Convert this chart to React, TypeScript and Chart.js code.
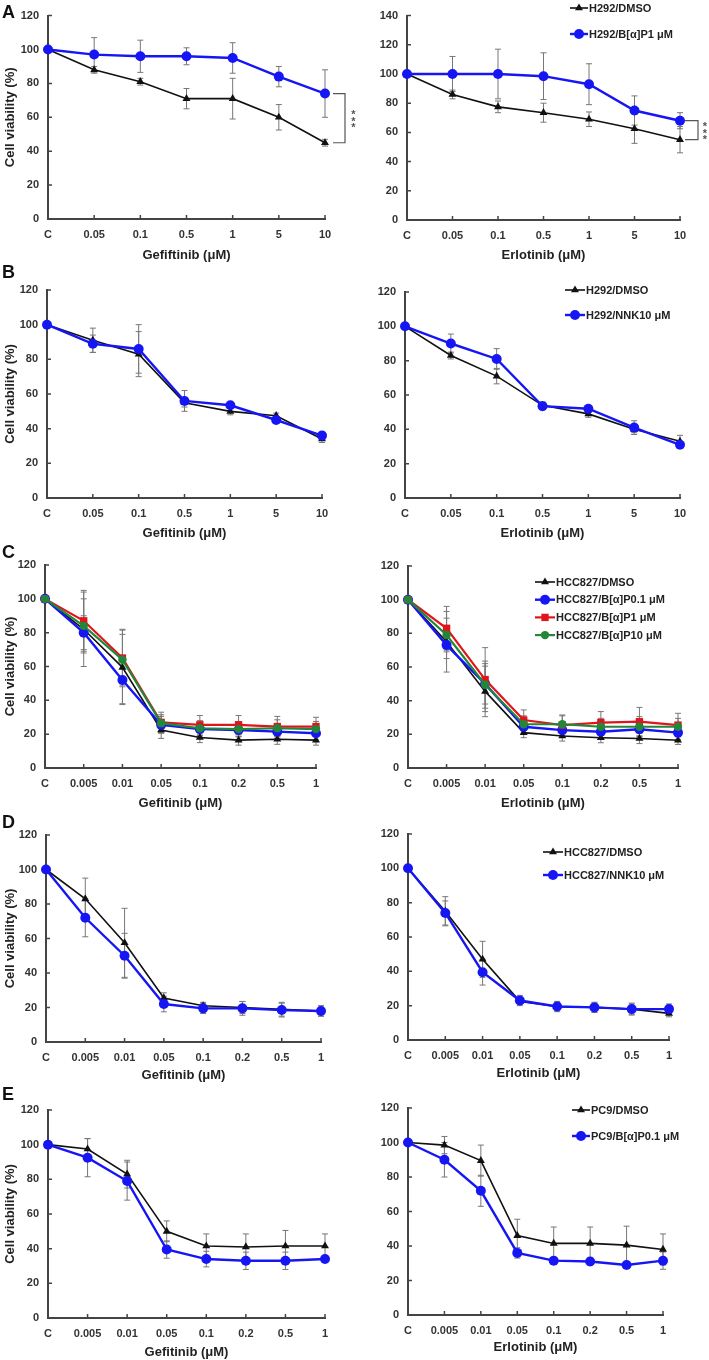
import { useEffect, useRef } from "react";
import * as React from "react";
import { Chart, registerables } from "chart.js";

Chart.register(...registerables);

const FONT = '"Liberation Sans", Arial, Helvetica, sans-serif';
Chart.defaults.font.family = FONT;

// ---- data ----
const dosesAB = ["C", "0.05", "0.1", "0.5", "1", "5", "10"];
const dosesCDE = ["C", "0.005", "0.01", "0.05", "0.1", "0.2", "0.5", "1"];

// A: H292, B[a]P
const aGefDmso = [100, 88, 81, 71, 71, 60, 45];
const aGefDmsoErr = [0, 2, 2, 6, 12, 7.5, 2];
const aGefBap = [100, 97, 96, 96, 95, 84, 74];
const aGefBapErr = [0, 10, 9.5, 5, 9, 6, 14];
const aErlDmso = [100, 86, 77.5, 73.5, 69, 62.5, 55];
const aErlDmsoErr = [0, 3, 4, 6.5, 5, 10, 9];
const aErlBap = [100, 100, 100, 98.5, 93, 75, 68];
const aErlBapErr = [0, 12, 17, 16, 14, 10, 5.5];

// B: H292, NNK
const bGefDmso = [100, 91, 83, 55, 50, 47.5, 34];
const bGefDmsoErr = [0, 7, 13, 2.5, 2, 1.5, 2];
const bGefNnk = [100, 89, 86, 56, 53.5, 45, 36];
const bGefNnkErr = [0, 5, 14, 6, 1.5, 1.5, 2];
const bErlDmso = [100, 83, 71, 54, 49, 40, 33];
const bErlDmsoErr = [0, 2, 4.5, 2, 2, 2, 3.5];
const bErlNnk = [100, 90, 81, 53.5, 52, 41, 31];
const bErlNnkErr = [0, 5.5, 6, 2, 1, 4, 1];

// C: HCC827, B[a]P
const cGefDmso = [100, 82, 59.5, 22.5, 18, 16.5, 17, 16.5];
const cGefDmsoErr = [0, 22, 22, 5, 3, 3, 3, 3];
const cGefBap01 = [100, 80, 52, 25.5, 23, 22.5, 21.5, 20.5];
const cGefBap01Err = [0, 10, 14, 5, 4, 4, 4, 4];
const cGefBap1 = [100, 87, 65, 27, 25.5, 25.5, 24.5, 24.5];
const cGefBap1Err = [0, 18, 17, 6, 5.5, 5.5, 6, 5.5];
const cGefBap10 = [100, 84, 64, 26.5, 23.5, 23, 23.5, 23];
const cGefBap10Err = [0, 16, 15, 5, 4.5, 4.5, 5, 4.5];
const cErlDmso = [100, 75, 45.5, 21, 19, 18, 17.5, 16.5];
const cErlDmsoErr = [0, 18, 15, 3, 3, 3, 3, 2.5];
const cErlBap01 = [100, 73, 50, 24.5, 22.5, 21.5, 23, 21];
const cErlBap01Err = [0, 8, 12, 4, 4, 4, 4, 4];
const cErlBap1 = [100, 83, 52.5, 28.5, 25.5, 27, 27.5, 25.5];
const cErlBap1Err = [0, 13, 19, 6, 6, 6.5, 8.5, 7];
const cErlBap10 = [100, 79, 49.5, 26, 26, 24.5, 24.5, 24.5];
const cErlBap10Err = [0, 10, 14, 5, 5, 5, 6, 5];

// D: HCC827, NNK
const dGefDmso = [100, 83, 57.5, 25.5, 21, 20, 19, 18];
const dGefDmsoErr = [0, 12, 20, 3, 2, 3.5, 4, 3];
const dGefNnk = [100, 72, 50, 22, 19.5, 19.5, 18.5, 18];
const dGefNnkErr = [0, 11, 13, 4.5, 3, 4, 4, 3];
const dErlDmso = [100, 75, 47, 22.5, 19.5, 19, 18, 15.5];
const dErlDmsoErr = [0, 8.5, 10.5, 2, 2.5, 2.5, 3, 2];
const dErlNnk = [100, 74, 39.5, 23, 19.5, 19, 18, 18];
const dErlNnkErr = [0, 7, 7.5, 3, 3, 3, 3.5, 3];

// E: PC9, B[a]P
const eGefDmso = [100, 97.5, 83, 50, 41.5, 41, 41.5, 41.5];
const eGefDmsoErr = [0, 6, 8, 6, 7, 7.5, 9, 7];
const eGefBap = [100, 92.5, 79, 39.5, 34, 33, 33, 34];
const eGefBapErr = [0, 11, 11, 5, 4.5, 5, 5, 2];
const eErlDmso = [100, 98.5, 89.5, 46, 41.5, 41.5, 40.5, 38];
const eErlDmsoErr = [0, 5, 9, 9.5, 9.5, 9.5, 11, 9];
const eErlBap = [100, 90, 72, 36, 31.5, 31, 29, 31.5];
const eErlBapErr = [0, 10, 9, 3, 2, 2, 2, 5];

// ---- styles ----
type Kind = "dmso" | "blue" | "red" | "green";
interface Series { label: string; values: number[]; errors: number[]; kind: Kind; }
interface PanelSpec {
  labels: string[];
  series: Series[];
  xTitle: string;
  yMax: number;
  yTitle: boolean;
  box: number[]; // canvas left, top, width, height (page px)
  plot: number[]; // plot left, right, top, bottom (page px)
  legend?: { x: number; y: number; gap: number; len: number };
  bracket?: { x0: number; x1: number; xs: number };
}

const STYLE: Record<Kind, { color: string; point: string; r: number; w: number; order: number }> = {
  dmso: { color: "#111111", point: "triangle", r: 4.6, w: 1.6, order: 4 },
  blue: { color: "#1616f5", point: "circle", r: 5, w: 2.4, order: 3 },
  red: { color: "#e0141c", point: "rect", r: 5.2, w: 2.2, order: 2 },
  green: { color: "#23873a", point: "circle", r: 4.2, w: 2.2, order: 1 },
};

const sr = (label: string, values: number[], errors: number[], kind: Kind): Series => ({ label, values, errors, kind });

const L = 362;
const PANELS: PanelSpec[] = [
  {
    labels: dosesAB, xTitle: "Gefiftinib (\u03bcM)", yMax: 120, yTitle: true,
    series: [sr("H292/DMSO", aGefDmso, aGefDmsoErr, "dmso"), sr("H292/B[\u03b1]P1 \u03bcM", aGefBap, aGefBapErr, "blue")],
    box: [0, 0, L, 263], plot: [48, 325, 12, 219], bracket: { x0: 8, x1: 20, xs: 28.5 },
  },
  {
    labels: dosesAB, xTitle: "Erlotinib (\u03bcM)", yMax: 140, yTitle: false,
    series: [sr("H292/DMSO", aErlDmso, aErlDmsoErr, "dmso"), sr("H292/B[\u03b1]P1 \u03bcM", aErlBap, aErlBapErr, "blue")],
    box: [L, 0, 709 - L, 263], plot: [407, 680, 15, 220],
    legend: { x: 570, y: 8, gap: 26, len: 18 }, bracket: { x0: 5, x1: 18, xs: 25 },
  },
  {
    labels: dosesAB, xTitle: "Gefitinib (\u03bcM)", yMax: 120, yTitle: true,
    series: [sr("H292/DMSO", bGefDmso, bGefDmsoErr, "dmso"), sr("H292/NNK10 \u03bcM", bGefNnk, bGefNnkErr, "blue")],
    box: [0, 263, L, 278], plot: [47, 322, 290, 498],
  },
  {
    labels: dosesAB, xTitle: "Erlotinib (\u03bcM)", yMax: 120, yTitle: false,
    series: [sr("H292/DMSO", bErlDmso, bErlDmsoErr, "dmso"), sr("H292/NNK10 \u03bcM", bErlNnk, bErlNnkErr, "blue")],
    box: [L, 263, 709 - L, 278], plot: [405, 680, 292, 498],
    legend: { x: 565, y: 290, gap: 25, len: 20 },
  },
  {
    labels: dosesCDE, xTitle: "Gefitinib (\u03bcM)", yMax: 120, yTitle: true,
    series: [
      sr("HCC827/DMSO", cGefDmso, cGefDmsoErr, "dmso"),
      sr("HCC827/B[\u03b1]P0.1 \u03bcM", cGefBap01, cGefBap01Err, "blue"),
      sr("HCC827/B[\u03b1]P1 \u03bcM", cGefBap1, cGefBap1Err, "red"),
      sr("HCC827/B[\u03b1]P10 \u03bcM", cGefBap10, cGefBap10Err, "green"),
    ],
    box: [0, 541, L, 270], plot: [45, 316, 565, 768],
  },
  {
    labels: dosesCDE, xTitle: "Erlotinib (\u03bcM)", yMax: 120, yTitle: false,
    series: [
      sr("HCC827/DMSO", cErlDmso, cErlDmsoErr, "dmso"),
      sr("HCC827/B[\u03b1]P0.1 \u03bcM", cErlBap01, cErlBap01Err, "blue"),
      sr("HCC827/B[\u03b1]P1 \u03bcM", cErlBap1, cErlBap1Err, "red"),
      sr("HCC827/B[\u03b1]P10 \u03bcM", cErlBap10, cErlBap10Err, "green"),
    ],
    box: [L, 541, 709 - L, 270], plot: [408, 678, 566, 768],
    legend: { x: 535, y: 582, gap: 17.7, len: 20 },
  },
  {
    labels: dosesCDE, xTitle: "Gefitinib (\u03bcM)", yMax: 120, yTitle: true,
    series: [sr("HCC827/DMSO", dGefDmso, dGefDmsoErr, "dmso"), sr("HCC827/NNK10 \u03bcM", dGefNnk, dGefNnkErr, "blue")],
    box: [0, 811, L, 272], plot: [46, 321, 835, 1042],
  },
  {
    labels: dosesCDE, xTitle: "Erlotinib (\u03bcM)", yMax: 120, yTitle: false,
    series: [sr("HCC827/DMSO", dErlDmso, dErlDmsoErr, "dmso"), sr("HCC827/NNK10 \u03bcM", dErlNnk, dErlNnkErr, "blue")],
    box: [L, 811, 709 - L, 270], plot: [408, 669, 834, 1040],
    legend: { x: 543, y: 852, gap: 23, len: 20 },
  },
  {
    labels: dosesCDE, xTitle: "Gefitinib (\u03bcM)", yMax: 120, yTitle: true,
    series: [sr("PC9/DMSO", eGefDmso, eGefDmsoErr, "dmso"), sr("PC9/B[\u03b1]P0.1 \u03bcM", eGefBap, eGefBapErr, "blue")],
    box: [0, 1083, L, 277], plot: [48, 325, 1110, 1318],
  },
  {
    labels: dosesCDE, xTitle: "Erlotinib (\u03bcM)", yMax: 120, yTitle: false,
    series: [sr("PC9/DMSO", eErlDmso, eErlDmsoErr, "dmso"), sr("PC9/B[\u03b1]P0.1 \u03bcM", eErlBap, eErlBapErr, "blue")],
    box: [L, 1081, 709 - L, 274], plot: [408, 663, 1108, 1315],
    legend: { x: 572, y: 1110, gap: 26, len: 18 },
  },
];

const LETTERS = [
  { t: "A", top: 3 },
  { t: "B", top: 263 },
  { t: "C", top: 543 },
  { t: "D", top: 813 },
  { t: "E", top: 1085 },
];

function drawMarker(ctx: CanvasRenderingContext2D, kind: Kind, x: number, y: number) {
  const s = STYLE[kind];
  ctx.beginPath();
  if (s.point === "triangle") {
    let rad = 0;
    ctx.moveTo(x + Math.sin(rad) * s.r, y - Math.cos(rad) * s.r);
    rad += (2 * Math.PI) / 3;
    ctx.lineTo(x + Math.sin(rad) * s.r, y - Math.cos(rad) * s.r);
    rad += (2 * Math.PI) / 3;
    ctx.lineTo(x + Math.sin(rad) * s.r, y - Math.cos(rad) * s.r);
    ctx.closePath();
  } else if (s.point === "rect") {
    const h = Math.SQRT1_2 * s.r;
    ctx.rect(x - h, y - h, 2 * h, 2 * h);
  } else {
    ctx.arc(x, y, s.r, 0, Math.PI * 2);
  }
  ctx.fillStyle = s.color;
  ctx.fill();
}

function extras(spec: PanelSpec) {
  return {
    id: "extras",
    beforeDatasetsDraw(chart: any) {
      const { ctx, chartArea: a, scales } = chart;
      const ys = scales.y;
      const xs = scales.x;
      ctx.save();
      // short inward ticks
      ctx.strokeStyle = "#444";
      ctx.lineWidth = 1.5;
      ctx.beginPath();
      for (let v = 20; v <= spec.yMax; v += 20) {
        const py = ys.getPixelForValue(v);
        ctx.moveTo(a.left, py);
        ctx.lineTo(a.left + 4, py);
      }
      spec.labels.forEach((_, i) => {
        const px = xs.getPixelForValue(i);
        ctx.moveTo(px, a.bottom);
        ctx.lineTo(px, a.bottom - 4);
      });
      ctx.stroke();
      // error bars
      ctx.strokeStyle = "#777";
      ctx.lineWidth = 1;
      spec.series.forEach((s, di) => {
        const meta = chart.getDatasetMeta(di);
        s.values.forEach((v, j) => {
          const e = s.errors[j];
          if (!e) return;
          const px = meta.data[j].x;
          const t = ys.getPixelForValue(v + e);
          const b = ys.getPixelForValue(v - e);
          ctx.beginPath();
          ctx.moveTo(px, t);
          ctx.lineTo(px, b);
          ctx.moveTo(px - 3, t);
          ctx.lineTo(px + 3, t);
          ctx.moveTo(px - 3, b);
          ctx.lineTo(px + 3, b);
          ctx.stroke();
        });
      });
      ctx.restore();
    },
    afterDraw(chart: any) {
      const { ctx, chartArea: a, scales } = chart;
      const [cl, ct] = spec.box;
      ctx.save();
      if (spec.legend) {
        const lg = spec.legend;
        ctx.font = `bold 11px ${FONT}`;
        ctx.textBaseline = "middle";
        ctx.textAlign = "left";
        spec.series.forEach((s, i) => {
          const st = STYLE[s.kind];
          const x = lg.x - cl;
          const y = lg.y - ct + i * lg.gap;
          ctx.strokeStyle = st.color;
          ctx.lineWidth = st.w;
          ctx.beginPath();
          ctx.moveTo(x, y);
          ctx.lineTo(x + lg.len, y);
          ctx.stroke();
          drawMarker(ctx, s.kind, x + lg.len / 2, y);
          ctx.fillStyle = "#222";
          ctx.fillText(s.label, x + lg.len + 1, y + 0.5);
        });
      }
      if (spec.bracket) {
        const br = spec.bracket;
        const n = spec.labels.length - 1;
        const y0 = scales.y.getPixelForValue(spec.series[1].values[n]);
        const y1 = scales.y.getPixelForValue(spec.series[0].values[n]);
        ctx.strokeStyle = "#555";
        ctx.lineWidth = 1.2;
        ctx.beginPath();
        ctx.moveTo(a.right + br.x0, y0);
        ctx.lineTo(a.right + br.x1, y0);
        ctx.lineTo(a.right + br.x1, y1);
        ctx.lineTo(a.right + br.x0, y1);
        ctx.stroke();
        // three stacked asterisks
        const mid = (y0 + y1) / 2;
        ctx.fillStyle = "#555";
        ctx.font = `bold 11px ${FONT}`;
        ctx.textAlign = "center";
        ctx.textBaseline = "alphabetic";
        [-6.5, 0, 6.5].forEach((d) => {
          ctx.fillText("*", a.right + br.xs, mid + d + 6.5);
        });
      }
      ctx.restore();
    },
  };
}

function Panel({ spec }: { spec: PanelSpec }) {
  const ref = useRef<HTMLCanvasElement>(null);
  const [cl, ct, cw, ch] = spec.box;

  useEffect(() => {
    if (!ref.current) return;
    const [pl, pr, pt, pb] = spec.plot;
    const tickFont = { family: FONT, size: 11, weight: "bold" as const };
    const titleFont = { family: FONT, size: 13, weight: "bold" as const };
    const chart = new Chart(ref.current, {
      type: "line",
      data: {
        labels: spec.labels,
        datasets: spec.series.map((s) => {
          const st = STYLE[s.kind];
          return {
            label: s.label,
            data: s.values,
            borderColor: st.color,
            backgroundColor: st.color,
            borderWidth: st.w,
            pointStyle: st.point as any,
            pointRadius: st.r,
            pointBackgroundColor: st.color,
            pointBorderColor: st.color,
            pointBorderWidth: 0,
            tension: 0,
            fill: false,
            clip: false as any,
            order: st.order,
          };
        }),
      },
      options: {
        responsive: false,
        animation: false,
        layout: { padding: { top: pt - ct, right: cl + cw - pr, left: 0, bottom: 0 } },
        plugins: { legend: { display: false }, tooltip: { enabled: false } },
        scales: {
          x: {
            type: "category",
            offset: false,
            grid: { display: false, drawTicks: false },
            border: { display: true, color: "#444", width: 2 },
            ticks: { color: "#333", font: tickFont, padding: 9, autoSkip: false, maxRotation: 0 },
            title: { display: true, text: spec.xTitle, color: "#222", font: titleFont, padding: { top: 0, bottom: 0 } },
            afterFit: (s: any) => { s.height = ct + ch - pb; },
          },
          y: {
            min: 0,
            max: spec.yMax,
            grid: { display: false, drawTicks: false },
            border: { display: true, color: "#444", width: 2 },
            ticks: { stepSize: 20, color: "#333", font: tickFont, padding: 9 },
            title: { display: spec.yTitle, text: "Cell viability (%)", color: "#222", font: titleFont, padding: { top: 3, bottom: 0 } },
            afterFit: (s: any) => { s.width = pl - cl; },
          },
        },
      },
      plugins: [extras(spec)],
    });
    return () => chart.destroy();
  }, [spec]);

  return <canvas ref={ref} width={cw} height={ch} style={{ position: "absolute", left: cl, top: ct }} />;
}

export default function App() {
  return (
    <div style={{ position: "absolute", left: 0, top: 0, width: 709, height: 1360, background: "#fff", overflow: "hidden" }}>
      {PANELS.map((p, i) => (
        <Panel key={i} spec={p} />
      ))}
      {LETTERS.map((l) => (
        <div
          key={l.t}
          style={{ position: "absolute", left: 2, top: l.top, fontFamily: FONT, fontWeight: "bold", fontSize: 18, lineHeight: "18px", color: "#111" }}
        >
          {l.t}
        </div>
      ))}
    </div>
  );
}
